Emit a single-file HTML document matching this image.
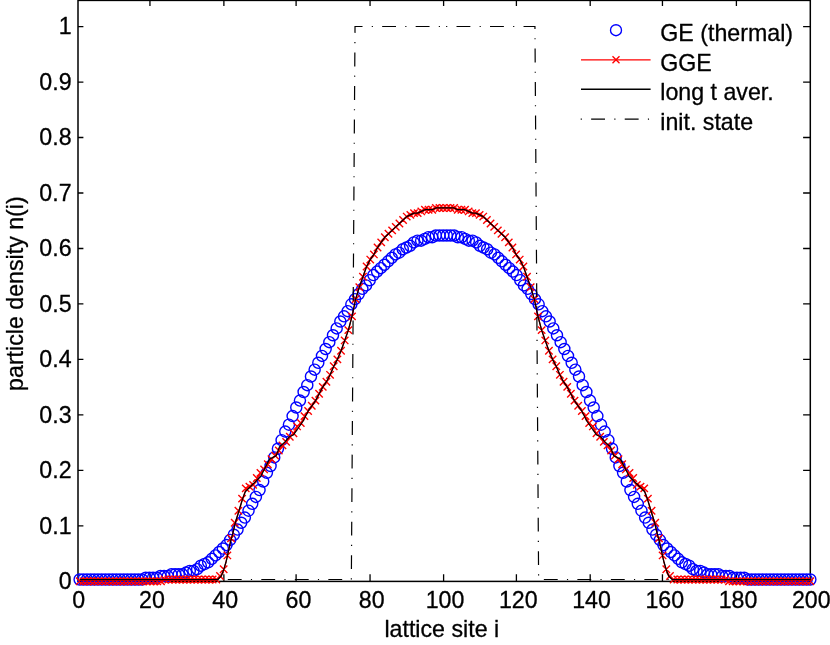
<!DOCTYPE html>
<html><head><meta charset="utf-8"><title>plot</title><style>html,body{margin:0;padding:0;background:#fff}svg{display:block;will-change:transform}</style></head>
<body>
<svg width="830" height="645" viewBox="0 0 830 645">
<rect x="0" y="0" width="830" height="645" fill="#fff"/>
<g stroke="#000" fill="none">
<rect x="78.00" y="0.40" width="732.30" height="581.00" stroke-width="1.5"/>
<path d="M149.95 581.40V574.20M149.95 0.40V6.00M223.88 581.40V574.20M223.88 0.40V6.00M296.10 581.40V574.20M296.10 0.40V6.00M370.05 581.40V574.20M370.05 0.40V6.00M443.60 581.40V574.20M443.60 0.40V6.00M516.40 581.40V574.20M516.40 0.40V6.00M590.20 581.40V574.20M590.20 0.40V6.00M662.45 581.40V574.20M662.45 0.40V6.00M736.40 581.40V574.20M736.40 0.40V6.00M78.00 581.40H83.40M810.30 581.40H803.10M78.00 525.91H83.40M810.30 525.91H803.10M78.00 470.43H83.40M810.30 470.43H803.10M78.00 414.94H83.40M810.30 414.94H803.10M78.00 359.46H83.40M810.30 359.46H803.10M78.00 303.97H83.40M810.30 303.97H803.10M78.00 248.49H83.40M810.30 248.49H803.10M78.00 193.00H83.40M810.30 193.00H803.10M78.00 137.52H83.40M810.30 137.52H803.10M78.00 82.03H83.40M810.30 82.03H803.10M78.00 26.55H83.40M810.30 26.55H803.10" stroke-width="1.3"/>
</g>
<g fill="none" stroke="#0000ff" stroke-width="1.4">
<circle cx="79.62" cy="579.50" r="5.55"/>
<circle cx="83.29" cy="579.50" r="5.55"/>
<circle cx="86.97" cy="579.50" r="5.55"/>
<circle cx="90.64" cy="579.50" r="5.55"/>
<circle cx="94.31" cy="579.50" r="5.55"/>
<circle cx="97.98" cy="579.50" r="5.55"/>
<circle cx="101.65" cy="579.50" r="5.55"/>
<circle cx="105.33" cy="579.50" r="5.55"/>
<circle cx="109.00" cy="579.50" r="5.55"/>
<circle cx="112.67" cy="579.50" r="5.55"/>
<circle cx="116.34" cy="579.50" r="5.55"/>
<circle cx="120.01" cy="579.50" r="5.55"/>
<circle cx="123.69" cy="579.50" r="5.55"/>
<circle cx="127.36" cy="579.50" r="5.55"/>
<circle cx="131.03" cy="579.50" r="5.55"/>
<circle cx="134.70" cy="579.50" r="5.55"/>
<circle cx="138.37" cy="579.50" r="5.55"/>
<circle cx="142.05" cy="579.50" r="5.55"/>
<circle cx="145.72" cy="577.78" r="5.55"/>
<circle cx="149.39" cy="577.78" r="5.55"/>
<circle cx="153.06" cy="577.78" r="5.55"/>
<circle cx="156.73" cy="577.78" r="5.55"/>
<circle cx="160.41" cy="576.06" r="5.55"/>
<circle cx="164.08" cy="576.06" r="5.55"/>
<circle cx="167.75" cy="576.06" r="5.55"/>
<circle cx="171.42" cy="574.34" r="5.55"/>
<circle cx="175.09" cy="574.34" r="5.55"/>
<circle cx="178.77" cy="574.34" r="5.55"/>
<circle cx="182.44" cy="574.34" r="5.55"/>
<circle cx="186.11" cy="572.62" r="5.55"/>
<circle cx="189.78" cy="570.90" r="5.55"/>
<circle cx="193.45" cy="570.90" r="5.55"/>
<circle cx="197.13" cy="569.18" r="5.55"/>
<circle cx="200.80" cy="565.74" r="5.55"/>
<circle cx="204.47" cy="564.02" r="5.55"/>
<circle cx="208.14" cy="562.30" r="5.55"/>
<circle cx="211.81" cy="558.86" r="5.55"/>
<circle cx="215.49" cy="555.42" r="5.55"/>
<circle cx="219.16" cy="551.98" r="5.55"/>
<circle cx="222.83" cy="548.54" r="5.55"/>
<circle cx="226.50" cy="545.10" r="5.55"/>
<circle cx="230.17" cy="539.94" r="5.55"/>
<circle cx="233.85" cy="534.78" r="5.55"/>
<circle cx="237.52" cy="529.62" r="5.55"/>
<circle cx="241.19" cy="522.74" r="5.55"/>
<circle cx="244.86" cy="517.58" r="5.55"/>
<circle cx="248.53" cy="510.70" r="5.55"/>
<circle cx="252.21" cy="503.82" r="5.55"/>
<circle cx="255.88" cy="496.94" r="5.55"/>
<circle cx="259.55" cy="490.06" r="5.55"/>
<circle cx="263.22" cy="481.46" r="5.55"/>
<circle cx="266.89" cy="472.86" r="5.55"/>
<circle cx="270.57" cy="465.98" r="5.55"/>
<circle cx="274.24" cy="457.38" r="5.55"/>
<circle cx="277.91" cy="448.78" r="5.55"/>
<circle cx="281.58" cy="440.18" r="5.55"/>
<circle cx="285.25" cy="431.58" r="5.55"/>
<circle cx="288.93" cy="424.70" r="5.55"/>
<circle cx="292.60" cy="416.10" r="5.55"/>
<circle cx="296.27" cy="407.50" r="5.55"/>
<circle cx="299.94" cy="400.62" r="5.55"/>
<circle cx="303.61" cy="392.02" r="5.55"/>
<circle cx="307.29" cy="385.14" r="5.55"/>
<circle cx="310.96" cy="376.54" r="5.55"/>
<circle cx="314.63" cy="369.66" r="5.55"/>
<circle cx="318.30" cy="362.78" r="5.55"/>
<circle cx="321.97" cy="355.90" r="5.55"/>
<circle cx="325.65" cy="349.02" r="5.55"/>
<circle cx="329.32" cy="342.14" r="5.55"/>
<circle cx="332.99" cy="335.26" r="5.55"/>
<circle cx="336.66" cy="328.38" r="5.55"/>
<circle cx="340.33" cy="321.50" r="5.55"/>
<circle cx="344.01" cy="316.34" r="5.55"/>
<circle cx="347.68" cy="311.18" r="5.55"/>
<circle cx="351.35" cy="304.30" r="5.55"/>
<circle cx="355.02" cy="299.14" r="5.55"/>
<circle cx="358.69" cy="293.98" r="5.55"/>
<circle cx="362.37" cy="288.82" r="5.55"/>
<circle cx="366.04" cy="285.38" r="5.55"/>
<circle cx="369.71" cy="280.22" r="5.55"/>
<circle cx="373.38" cy="275.06" r="5.55"/>
<circle cx="377.05" cy="271.62" r="5.55"/>
<circle cx="380.73" cy="268.18" r="5.55"/>
<circle cx="384.40" cy="264.74" r="5.55"/>
<circle cx="388.07" cy="261.30" r="5.55"/>
<circle cx="391.74" cy="257.86" r="5.55"/>
<circle cx="395.41" cy="254.42" r="5.55"/>
<circle cx="399.09" cy="252.70" r="5.55"/>
<circle cx="402.76" cy="249.26" r="5.55"/>
<circle cx="406.43" cy="247.54" r="5.55"/>
<circle cx="410.10" cy="245.82" r="5.55"/>
<circle cx="413.77" cy="242.38" r="5.55"/>
<circle cx="417.45" cy="240.66" r="5.55"/>
<circle cx="421.12" cy="240.66" r="5.55"/>
<circle cx="424.79" cy="238.94" r="5.55"/>
<circle cx="428.46" cy="237.22" r="5.55"/>
<circle cx="432.13" cy="237.22" r="5.55"/>
<circle cx="435.81" cy="235.50" r="5.55"/>
<circle cx="439.48" cy="235.50" r="5.55"/>
<circle cx="443.15" cy="235.50" r="5.55"/>
<circle cx="446.82" cy="235.50" r="5.55"/>
<circle cx="450.49" cy="235.50" r="5.55"/>
<circle cx="454.17" cy="235.50" r="5.55"/>
<circle cx="457.84" cy="237.22" r="5.55"/>
<circle cx="461.51" cy="237.22" r="5.55"/>
<circle cx="465.18" cy="238.94" r="5.55"/>
<circle cx="468.85" cy="240.66" r="5.55"/>
<circle cx="472.53" cy="240.66" r="5.55"/>
<circle cx="476.20" cy="242.38" r="5.55"/>
<circle cx="479.87" cy="245.82" r="5.55"/>
<circle cx="483.54" cy="247.54" r="5.55"/>
<circle cx="487.21" cy="249.26" r="5.55"/>
<circle cx="490.89" cy="252.70" r="5.55"/>
<circle cx="494.56" cy="254.42" r="5.55"/>
<circle cx="498.23" cy="257.86" r="5.55"/>
<circle cx="501.90" cy="261.30" r="5.55"/>
<circle cx="505.57" cy="264.74" r="5.55"/>
<circle cx="509.25" cy="268.18" r="5.55"/>
<circle cx="512.92" cy="271.62" r="5.55"/>
<circle cx="516.59" cy="275.06" r="5.55"/>
<circle cx="520.26" cy="280.22" r="5.55"/>
<circle cx="523.93" cy="285.38" r="5.55"/>
<circle cx="527.61" cy="288.82" r="5.55"/>
<circle cx="531.28" cy="293.98" r="5.55"/>
<circle cx="534.95" cy="299.14" r="5.55"/>
<circle cx="538.62" cy="304.30" r="5.55"/>
<circle cx="542.29" cy="311.18" r="5.55"/>
<circle cx="545.97" cy="316.34" r="5.55"/>
<circle cx="549.64" cy="321.50" r="5.55"/>
<circle cx="553.31" cy="328.38" r="5.55"/>
<circle cx="556.98" cy="335.26" r="5.55"/>
<circle cx="560.65" cy="342.14" r="5.55"/>
<circle cx="564.33" cy="349.02" r="5.55"/>
<circle cx="568.00" cy="355.90" r="5.55"/>
<circle cx="571.67" cy="362.78" r="5.55"/>
<circle cx="575.34" cy="369.66" r="5.55"/>
<circle cx="579.01" cy="376.54" r="5.55"/>
<circle cx="582.69" cy="385.14" r="5.55"/>
<circle cx="586.36" cy="392.02" r="5.55"/>
<circle cx="590.03" cy="400.62" r="5.55"/>
<circle cx="593.70" cy="407.50" r="5.55"/>
<circle cx="597.37" cy="416.10" r="5.55"/>
<circle cx="601.05" cy="424.70" r="5.55"/>
<circle cx="604.72" cy="431.58" r="5.55"/>
<circle cx="608.39" cy="440.18" r="5.55"/>
<circle cx="612.06" cy="448.78" r="5.55"/>
<circle cx="615.73" cy="457.38" r="5.55"/>
<circle cx="619.41" cy="465.98" r="5.55"/>
<circle cx="623.08" cy="472.86" r="5.55"/>
<circle cx="626.75" cy="481.46" r="5.55"/>
<circle cx="630.42" cy="490.06" r="5.55"/>
<circle cx="634.09" cy="496.94" r="5.55"/>
<circle cx="637.77" cy="503.82" r="5.55"/>
<circle cx="641.44" cy="510.70" r="5.55"/>
<circle cx="645.11" cy="517.58" r="5.55"/>
<circle cx="648.78" cy="522.74" r="5.55"/>
<circle cx="652.45" cy="529.62" r="5.55"/>
<circle cx="656.13" cy="534.78" r="5.55"/>
<circle cx="659.80" cy="539.94" r="5.55"/>
<circle cx="663.47" cy="545.10" r="5.55"/>
<circle cx="667.14" cy="548.54" r="5.55"/>
<circle cx="670.81" cy="551.98" r="5.55"/>
<circle cx="674.49" cy="555.42" r="5.55"/>
<circle cx="678.16" cy="558.86" r="5.55"/>
<circle cx="681.83" cy="562.30" r="5.55"/>
<circle cx="685.50" cy="564.02" r="5.55"/>
<circle cx="689.17" cy="565.74" r="5.55"/>
<circle cx="692.85" cy="569.18" r="5.55"/>
<circle cx="696.52" cy="570.90" r="5.55"/>
<circle cx="700.19" cy="570.90" r="5.55"/>
<circle cx="703.86" cy="572.62" r="5.55"/>
<circle cx="707.53" cy="574.34" r="5.55"/>
<circle cx="711.21" cy="574.34" r="5.55"/>
<circle cx="714.88" cy="574.34" r="5.55"/>
<circle cx="718.55" cy="574.34" r="5.55"/>
<circle cx="722.22" cy="576.06" r="5.55"/>
<circle cx="725.89" cy="576.06" r="5.55"/>
<circle cx="729.57" cy="576.06" r="5.55"/>
<circle cx="733.24" cy="577.78" r="5.55"/>
<circle cx="736.91" cy="577.78" r="5.55"/>
<circle cx="740.58" cy="577.78" r="5.55"/>
<circle cx="744.25" cy="577.78" r="5.55"/>
<circle cx="747.93" cy="579.50" r="5.55"/>
<circle cx="751.60" cy="579.50" r="5.55"/>
<circle cx="755.27" cy="579.50" r="5.55"/>
<circle cx="758.94" cy="579.50" r="5.55"/>
<circle cx="762.61" cy="579.50" r="5.55"/>
<circle cx="766.29" cy="579.50" r="5.55"/>
<circle cx="769.96" cy="579.50" r="5.55"/>
<circle cx="773.63" cy="579.50" r="5.55"/>
<circle cx="777.30" cy="579.50" r="5.55"/>
<circle cx="780.97" cy="579.50" r="5.55"/>
<circle cx="784.65" cy="579.50" r="5.55"/>
<circle cx="788.32" cy="579.50" r="5.55"/>
<circle cx="791.99" cy="579.50" r="5.55"/>
<circle cx="795.66" cy="579.50" r="5.55"/>
<circle cx="799.33" cy="579.50" r="5.55"/>
<circle cx="803.01" cy="579.50" r="5.55"/>
<circle cx="806.68" cy="579.50" r="5.55"/>
<circle cx="810.35" cy="579.50" r="5.55"/>
</g>
<polyline points="79.62,579.50 83.29,579.50 86.97,579.50 90.64,579.50 94.31,579.50 97.98,579.50 101.65,579.50 105.33,579.50 109.00,579.50 112.67,579.50 116.34,579.50 120.01,579.50 123.69,579.50 127.36,579.50 131.03,579.50 134.70,579.50 138.37,579.50 142.05,579.50 145.72,579.50 149.39,579.50 153.06,579.50 156.73,579.50 160.41,579.50 164.08,579.50 167.75,579.50 171.42,579.50 175.09,579.50 178.77,579.50 182.44,579.50 186.11,579.50 189.78,579.50 193.45,579.50 197.13,579.50 200.80,579.50 204.47,579.50 208.14,579.50 211.81,579.50 215.49,579.50 217.69,579.50 221.29,576.06 223.89,569.18 225.95,562.30 228.30,551.98 230.54,541.66 232.89,533.06 235.31,522.74 238.99,510.70 242.66,498.66 246.26,488.34 249.91,486.62 253.56,484.90 257.20,478.02 260.85,472.86 264.49,469.42 268.14,464.26 271.79,459.10 275.43,455.66 279.08,450.50 282.73,445.34 286.37,441.90 290.02,436.74 293.66,433.30 297.31,426.42 300.96,422.98 304.60,416.10 308.25,410.94 311.90,405.78 315.54,400.62 319.19,393.74 322.84,386.86 326.48,381.70 330.13,374.82 333.77,366.22 337.42,359.34 341.07,350.74 344.71,340.42 348.36,330.10 352.01,316.34 355.65,299.14 359.30,287.10 362.94,276.78 366.59,266.46 370.24,259.58 373.88,254.42 377.53,247.54 381.18,242.38 384.82,237.22 388.47,233.78 392.11,230.34 395.76,226.90 399.41,223.46 403.05,220.02 406.70,216.58 410.35,214.86 413.99,213.14 417.64,213.14 421.29,211.42 424.93,209.70 428.58,209.70 432.22,209.70 435.87,207.98 439.52,207.98 443.16,207.98 446.81,207.98 450.46,207.98 454.10,207.98 457.75,209.70 461.39,209.70 465.04,209.70 468.69,211.42 472.33,213.14 475.98,213.14 479.63,214.86 483.27,216.58 486.92,220.02 490.56,223.46 494.21,226.90 497.86,230.34 501.50,233.78 505.15,237.22 508.80,242.38 512.44,247.54 516.09,254.42 519.74,259.58 523.38,266.46 527.03,276.78 530.67,287.10 534.32,299.14 537.97,316.34 541.61,330.10 545.26,340.42 548.91,350.74 552.55,359.34 556.20,366.22 559.84,374.82 563.49,381.70 567.14,386.86 570.78,393.74 574.43,400.62 578.08,405.78 581.72,410.94 585.37,416.10 589.01,422.98 592.66,426.42 596.31,433.30 599.95,436.74 603.60,441.90 607.25,445.34 610.89,450.50 614.54,455.66 618.19,459.10 621.83,464.26 625.48,469.42 629.12,472.86 632.77,478.02 636.42,484.90 640.06,486.62 643.71,488.34 647.31,498.66 650.99,510.70 654.66,522.74 657.08,533.06 659.43,541.66 661.67,551.98 664.02,562.30 666.08,569.18 668.68,576.06 672.28,579.50 674.49,579.50 678.16,579.50 681.83,579.50 685.50,579.50 689.17,579.50 692.85,579.50 696.52,579.50 700.19,579.50 703.86,579.50 707.53,579.50 711.21,579.50 714.88,579.50 718.55,579.50 722.22,579.50 725.89,579.50 729.57,579.50 733.24,579.50 736.91,579.50 740.58,579.50 744.25,579.50 747.93,579.50 751.60,579.50 755.27,579.50 758.94,579.50 762.61,579.50 766.29,579.50 769.96,579.50 773.63,579.50 777.30,579.50 780.97,579.50 784.65,579.50 788.32,579.50 791.99,579.50 795.66,579.50 799.33,579.50 803.01,579.50 806.68,579.50 810.35,579.50" fill="none" stroke="#ff0000" stroke-width="1.3" stroke-linejoin="round"/>
<path d="M75.94 577.52L83.34 584.92M75.94 584.92L83.34 577.52M79.64 577.52L87.04 584.92M79.64 584.92L87.04 577.52M83.34 577.52L90.74 584.92M83.34 584.92L90.74 577.52M87.04 577.52L94.44 584.92M87.04 584.92L94.44 577.52M90.74 577.52L98.14 584.92M90.74 584.92L98.14 577.52M94.44 577.52L101.84 584.92M94.44 584.92L101.84 577.52M98.14 577.52L105.54 584.92M98.14 584.92L105.54 577.52M101.84 577.52L109.24 584.92M101.84 584.92L109.24 577.52M105.54 577.52L112.94 584.92M105.54 584.92L112.94 577.52M109.23 577.52L116.63 584.92M109.23 584.92L116.63 577.52M112.93 577.52L120.33 584.92M112.93 584.92L120.33 577.52M116.63 577.52L124.03 584.92M116.63 584.92L124.03 577.52M120.33 577.52L127.73 584.92M120.33 584.92L127.73 577.52M124.03 577.52L131.43 584.92M124.03 584.92L131.43 577.52M127.73 577.52L135.13 584.92M127.73 584.92L135.13 577.52M131.42 577.52L138.82 584.92M131.42 584.92L138.82 577.52M135.12 577.52L142.52 584.92M135.12 584.92L142.52 577.52M138.82 577.52L146.22 584.92M138.82 584.92L146.22 577.52M142.51 577.52L149.91 584.92M142.51 584.92L149.91 577.52M146.21 577.52L153.61 584.92M146.21 584.92L153.61 577.52M149.90 577.52L157.30 584.92M149.90 584.92L157.30 577.52M153.60 577.52L161.00 584.92M153.60 584.92L161.00 577.52M157.29 577.52L164.69 584.92M157.29 584.92L164.69 577.52M160.98 575.80L168.38 583.20M160.98 583.20L168.38 575.80M164.68 575.80L172.08 583.20M164.68 583.20L172.08 575.80M168.37 575.80L175.77 583.20M168.37 583.20L175.77 575.80M172.06 575.80L179.46 583.20M172.06 583.20L179.46 575.80M175.75 575.80L183.15 583.20M175.75 583.20L183.15 575.80M179.44 575.80L186.84 583.20M179.44 583.20L186.84 575.80M183.13 575.80L190.53 583.20M183.13 583.20L190.53 575.80M186.82 575.80L194.22 583.20M186.82 583.20L194.22 575.80M190.51 575.80L197.91 583.20M190.51 583.20L197.91 575.80M194.19 575.80L201.59 583.20M194.19 583.20L201.59 575.80M197.88 575.80L205.28 583.20M197.88 583.20L205.28 575.80M201.57 575.80L208.97 583.20M201.57 583.20L208.97 575.80M205.25 575.80L212.65 583.20M205.25 583.20L212.65 575.80M208.93 575.80L216.33 583.20M208.93 583.20L216.33 575.80M212.62 575.80L220.02 583.20M212.62 583.20L220.02 575.80M216.30 572.36L223.70 579.76M216.30 579.76L223.70 572.36M219.98 565.48L227.38 572.88M219.98 572.88L227.38 565.48M223.66 551.72L231.06 559.12M223.66 559.12L231.06 551.72M227.34 534.52L234.74 541.92M227.34 541.92L234.74 534.52M231.02 519.04L238.42 526.44M231.02 526.44L238.42 519.04M234.70 507.00L242.10 514.40M234.70 514.40L242.10 507.00M238.38 494.96L245.78 502.36M238.38 502.36L245.78 494.96M242.05 484.64L249.45 492.04M242.05 492.04L249.45 484.64M245.73 482.92L253.13 490.32M245.73 490.32L253.13 482.92M249.40 481.20L256.80 488.60M249.40 488.60L256.80 481.20M253.08 474.32L260.48 481.72M253.08 481.72L260.48 474.32M256.75 469.16L264.15 476.56M256.75 476.56L264.15 469.16M260.42 465.72L267.82 473.12M260.42 473.12L267.82 465.72M264.09 460.56L271.49 467.96M264.09 467.96L271.49 460.56M267.76 455.40L275.16 462.80M267.76 462.80L275.16 455.40M271.43 451.96L278.83 459.36M271.43 459.36L278.83 451.96M275.10 446.80L282.50 454.20M275.10 454.20L282.50 446.80M278.77 441.64L286.17 449.04M278.77 449.04L286.17 441.64M282.44 438.20L289.84 445.60M282.44 445.60L289.84 438.20M286.10 433.04L293.50 440.44M286.10 440.44L293.50 433.04M289.77 429.60L297.17 437.00M289.77 437.00L297.17 429.60M293.43 422.72L300.83 430.12M293.43 430.12L300.83 422.72M297.09 419.28L304.49 426.68M297.09 426.68L304.49 419.28M300.76 412.40L308.16 419.80M300.76 419.80L308.16 412.40M304.42 407.24L311.82 414.64M304.42 414.64L311.82 407.24M308.08 402.08L315.48 409.48M308.08 409.48L315.48 402.08M311.74 396.92L319.14 404.32M311.74 404.32L319.14 396.92M315.40 390.04L322.80 397.44M315.40 397.44L322.80 390.04M319.06 383.16L326.46 390.56M319.06 390.56L326.46 383.16M322.71 378.00L330.11 385.40M322.71 385.40L330.11 378.00M326.37 371.12L333.77 378.52M326.37 378.52L333.77 371.12M330.03 362.52L337.43 369.92M330.03 369.92L337.43 362.52M333.68 355.64L341.08 363.04M333.68 363.04L341.08 355.64M337.34 347.04L344.74 354.44M337.34 354.44L344.74 347.04M340.99 336.72L348.39 344.12M340.99 344.12L348.39 336.72M344.64 326.40L352.04 333.80M344.64 333.80L352.04 326.40M348.30 312.64L355.70 320.04M348.30 320.04L355.70 312.64M351.95 295.44L359.35 302.84M351.95 302.84L359.35 295.44M355.60 283.40L363.00 290.80M355.60 290.80L363.00 283.40M359.25 273.08L366.65 280.48M359.25 280.48L366.65 273.08M362.90 262.76L370.30 270.16M362.90 270.16L370.30 262.76M366.55 255.88L373.95 263.28M366.55 263.28L373.95 255.88M370.20 250.72L377.60 258.12M370.20 258.12L377.60 250.72M373.85 243.84L381.25 251.24M373.85 251.24L381.25 243.84M377.50 238.68L384.90 246.08M377.50 246.08L384.90 238.68M381.14 233.52L388.54 240.92M381.14 240.92L388.54 233.52M384.79 230.08L392.19 237.48M384.79 237.48L392.19 230.08M388.44 226.64L395.84 234.04M388.44 234.04L395.84 226.64M392.08 223.20L399.48 230.60M392.08 230.60L399.48 223.20M395.73 219.76L403.13 227.16M395.73 227.16L403.13 219.76M399.38 216.32L406.78 223.72M399.38 223.72L406.78 216.32M403.02 212.88L410.42 220.28M403.02 220.28L410.42 212.88M406.67 211.16L414.07 218.56M406.67 218.56L414.07 211.16M410.31 209.44L417.71 216.84M410.31 216.84L417.71 209.44M413.96 209.44L421.36 216.84M413.96 216.84L421.36 209.44M417.60 207.72L425.00 215.12M417.60 215.12L425.00 207.72M421.24 206.00L428.64 213.40M421.24 213.40L428.64 206.00M424.89 206.00L432.29 213.40M424.89 213.40L432.29 206.00M428.53 206.00L435.93 213.40M428.53 213.40L435.93 206.00M432.18 204.28L439.58 211.68M432.18 211.68L439.58 204.28M435.82 204.28L443.22 211.68M435.82 211.68L443.22 204.28M439.46 204.28L446.86 211.68M439.46 211.68L446.86 204.28M443.11 204.28L450.51 211.68M443.11 211.68L450.51 204.28M446.75 204.28L454.15 211.68M446.75 211.68L454.15 204.28M450.40 204.28L457.80 211.68M450.40 211.68L457.80 204.28M454.04 206.00L461.44 213.40M454.04 213.40L461.44 206.00M457.68 206.00L465.08 213.40M457.68 213.40L465.08 206.00M461.33 206.00L468.73 213.40M461.33 213.40L468.73 206.00M464.97 207.72L472.37 215.12M464.97 215.12L472.37 207.72M468.62 209.44L476.02 216.84M468.62 216.84L476.02 209.44M472.26 209.44L479.66 216.84M472.26 216.84L479.66 209.44M475.91 211.16L483.31 218.56M475.91 218.56L483.31 211.16M479.55 212.88L486.95 220.28M479.55 220.28L486.95 212.88M483.20 216.32L490.60 223.72M483.20 223.72L490.60 216.32M486.84 219.76L494.24 227.16M486.84 227.16L494.24 219.76M490.49 223.20L497.89 230.60M490.49 230.60L497.89 223.20M494.13 226.64L501.53 234.04M494.13 234.04L501.53 226.64M497.78 230.08L505.18 237.48M497.78 237.48L505.18 230.08M501.43 233.52L508.83 240.92M501.43 240.92L508.83 233.52M505.08 238.68L512.48 246.08M505.08 246.08L512.48 238.68M508.72 243.84L516.12 251.24M508.72 251.24L516.12 243.84M512.37 250.72L519.77 258.12M512.37 258.12L519.77 250.72M516.02 255.88L523.42 263.28M516.02 263.28L523.42 255.88M519.67 262.76L527.07 270.16M519.67 270.16L527.07 262.76M523.32 273.08L530.72 280.48M523.32 280.48L530.72 273.08M526.97 283.40L534.37 290.80M526.97 290.80L534.37 283.40M530.62 295.44L538.02 302.84M530.62 302.84L538.02 295.44M534.28 312.64L541.68 320.04M534.28 320.04L541.68 312.64M537.93 326.40L545.33 333.80M537.93 333.80L545.33 326.40M541.58 336.72L548.98 344.12M541.58 344.12L548.98 336.72M545.24 347.04L552.64 354.44M545.24 354.44L552.64 347.04M548.89 355.64L556.29 363.04M548.89 363.04L556.29 355.64M552.55 362.52L559.95 369.92M552.55 369.92L559.95 362.52M556.20 371.12L563.60 378.52M556.20 378.52L563.60 371.12M559.86 378.00L567.26 385.40M559.86 385.40L567.26 378.00M563.52 383.16L570.92 390.56M563.52 390.56L570.92 383.16M567.17 390.04L574.57 397.44M567.17 397.44L574.57 390.04M570.83 396.92L578.23 404.32M570.83 404.32L578.23 396.92M574.49 402.08L581.89 409.48M574.49 409.48L581.89 402.08M578.15 407.24L585.55 414.64M578.15 414.64L585.55 407.24M581.82 412.40L589.22 419.80M581.82 419.80L589.22 412.40M585.48 419.28L592.88 426.68M585.48 426.68L592.88 419.28M589.14 422.72L596.54 430.12M589.14 430.12L596.54 422.72M592.81 429.60L600.21 437.00M592.81 437.00L600.21 429.60M596.47 433.04L603.87 440.44M596.47 440.44L603.87 433.04M600.14 438.20L607.54 445.60M600.14 445.60L607.54 438.20M603.80 441.64L611.20 449.04M603.80 449.04L611.20 441.64M607.47 446.80L614.87 454.20M607.47 454.20L614.87 446.80M611.14 451.96L618.54 459.36M611.14 459.36L618.54 451.96M614.81 455.40L622.21 462.80M614.81 462.80L622.21 455.40M618.48 460.56L625.88 467.96M618.48 467.96L625.88 460.56M622.15 465.72L629.55 473.12M622.15 473.12L629.55 465.72M625.82 469.16L633.22 476.56M625.82 476.56L633.22 469.16M629.49 474.32L636.89 481.72M629.49 481.72L636.89 474.32M633.17 481.20L640.57 488.60M633.17 488.60L640.57 481.20M636.84 482.92L644.24 490.32M636.84 490.32L644.24 482.92M640.52 484.64L647.92 492.04M640.52 492.04L647.92 484.64M644.20 494.96L651.60 502.36M644.20 502.36L651.60 494.96M647.87 507.00L655.27 514.40M647.87 514.40L655.27 507.00M651.55 519.04L658.95 526.44M651.55 526.44L658.95 519.04M655.23 534.52L662.63 541.92M655.23 541.92L662.63 534.52M658.91 551.72L666.31 559.12M658.91 559.12L666.31 551.72M662.59 565.48L669.99 572.88M662.59 572.88L669.99 565.48M666.27 572.36L673.67 579.76M666.27 579.76L673.67 572.36M669.95 575.80L677.35 583.20M669.95 583.20L677.35 575.80M673.64 575.80L681.04 583.20M673.64 583.20L681.04 575.80M677.32 575.80L684.72 583.20M677.32 583.20L684.72 575.80M681.01 575.80L688.41 583.20M681.01 583.20L688.41 575.80M684.69 575.80L692.09 583.20M684.69 583.20L692.09 575.80M688.38 575.80L695.78 583.20M688.38 583.20L695.78 575.80M692.07 575.80L699.47 583.20M692.07 583.20L699.47 575.80M695.75 575.80L703.15 583.20M695.75 583.20L703.15 575.80M699.44 575.80L706.84 583.20M699.44 583.20L706.84 575.80M703.13 575.80L710.53 583.20M703.13 583.20L710.53 575.80M706.82 575.80L714.22 583.20M706.82 583.20L714.22 575.80M710.51 575.80L717.91 583.20M710.51 583.20L717.91 575.80M714.20 575.80L721.60 583.20M714.20 583.20L721.60 575.80M717.90 575.80L725.30 583.20M717.90 583.20L725.30 575.80M721.59 575.80L728.99 583.20M721.59 583.20L728.99 575.80M725.28 577.52L732.68 584.92M725.28 584.92L732.68 577.52M728.98 577.52L736.38 584.92M728.98 584.92L736.38 577.52M732.67 577.52L740.07 584.92M732.67 584.92L740.07 577.52M736.36 577.52L743.76 584.92M736.36 584.92L743.76 577.52M740.06 577.52L747.46 584.92M740.06 584.92L747.46 577.52M743.76 577.52L751.16 584.92M743.76 584.92L751.16 577.52M747.45 577.52L754.85 584.92M747.45 584.92L754.85 577.52M751.15 577.52L758.55 584.92M751.15 584.92L758.55 577.52M754.85 577.52L762.25 584.92M754.85 584.92L762.25 577.52M758.54 577.52L765.94 584.92M758.54 584.92L765.94 577.52M762.24 577.52L769.64 584.92M762.24 584.92L769.64 577.52M765.94 577.52L773.34 584.92M765.94 584.92L773.34 577.52M769.64 577.52L777.04 584.92M769.64 584.92L777.04 577.52M773.34 577.52L780.74 584.92M773.34 584.92L780.74 577.52M777.04 577.52L784.44 584.92M777.04 584.92L784.44 577.52M780.74 577.52L788.14 584.92M780.74 584.92L788.14 577.52M784.44 577.52L791.84 584.92M784.44 584.92L791.84 577.52M788.14 577.52L795.54 584.92M788.14 584.92L795.54 577.52M791.84 577.52L799.24 584.92M791.84 584.92L799.24 577.52M795.54 577.52L802.94 584.92M795.54 584.92L802.94 577.52M799.24 577.52L806.64 584.92M799.24 584.92L806.64 577.52M802.94 577.52L810.34 584.92M802.94 584.92L810.34 577.52M806.64 577.52L814.04 584.92M806.64 584.92L814.04 577.52" fill="none" stroke="#ff0000" stroke-width="1.4"/>
<polyline points="79.62,579.50 83.29,579.50 86.97,579.50 90.64,579.50 94.31,579.50 97.98,579.50 101.65,579.50 105.33,579.50 109.00,579.50 112.67,579.50 116.34,579.50 120.01,579.50 123.69,579.50 127.36,579.50 131.03,579.50 134.70,579.50 138.37,579.50 142.05,579.50 145.72,579.50 149.39,579.50 153.06,579.50 156.73,579.50 160.41,579.50 164.08,579.50 167.75,579.50 171.42,579.50 175.09,579.50 178.77,579.50 182.44,579.50 186.11,579.50 189.78,579.50 193.45,579.50 197.13,579.50 200.80,579.50 204.47,579.50 208.14,579.50 211.81,579.50 215.49,579.50 217.69,579.50 221.29,576.06 223.89,569.18 225.95,562.30 228.30,551.98 230.54,541.66 232.89,533.06 235.31,522.74 238.99,510.70 242.66,498.66 245.30,491.78 260.80,476.30 269.50,459.10 276.29,455.66 279.42,447.06 285.00,441.90 289.37,436.74 293.30,435.02 302.99,421.26 308.25,410.94 311.90,405.78 315.54,400.62 319.19,393.74 322.84,386.86 326.48,381.70 330.13,374.82 333.77,366.22 337.42,359.34 341.07,350.74 344.71,340.42 348.36,330.10 352.01,316.34 355.65,299.14 359.30,287.10 362.94,276.78 366.59,266.46 370.24,259.58 373.88,254.42 377.53,247.54 381.18,242.38 384.82,237.22 388.47,233.78 392.11,230.34 395.76,226.90 399.41,223.46 403.05,220.02 406.70,216.58 410.35,214.86 413.99,213.14 417.64,213.14 421.29,211.42 424.93,209.70 428.58,209.70 432.22,209.70 435.87,207.98 439.52,207.98 443.16,207.98 446.81,207.98 450.46,207.98 454.10,207.98 457.75,209.70 461.39,209.70 465.04,209.70 468.69,211.42 472.33,213.14 475.98,213.14 479.63,214.86 483.27,216.58 486.92,220.02 490.56,223.46 494.21,226.90 497.86,230.34 501.50,233.78 505.15,237.22 508.80,242.38 512.44,247.54 516.09,254.42 519.74,259.58 523.38,266.46 527.03,276.78 530.67,287.10 534.32,299.14 537.97,316.34 541.61,330.10 545.26,340.42 548.91,350.74 552.55,359.34 556.20,366.22 559.84,374.82 563.49,381.70 567.14,386.86 570.78,393.74 574.43,400.62 578.08,405.78 581.72,410.94 586.98,421.26 596.68,435.02 600.61,436.74 604.98,441.90 610.56,447.06 613.68,455.66 620.47,459.10 629.17,476.30 644.67,491.78 647.31,498.66 650.99,510.70 654.66,522.74 657.08,533.06 659.43,541.66 661.67,551.98 664.02,562.30 666.08,569.18 668.68,576.06 672.28,579.50 674.49,579.50 678.16,579.50 681.83,579.50 685.50,579.50 689.17,579.50 692.85,579.50 696.52,579.50 700.19,579.50 703.86,579.50 707.53,579.50 711.21,579.50 714.88,579.50 718.55,579.50 722.22,579.50 725.89,579.50 729.57,579.50 733.24,579.50 736.91,579.50 740.58,579.50 744.25,579.50 747.93,579.50 751.60,579.50 755.27,579.50 758.94,579.50 762.61,579.50 766.29,579.50 769.96,579.50 773.63,579.50 777.30,579.50 780.97,579.50 784.65,579.50 788.32,579.50 791.99,579.50 795.66,579.50 799.33,579.50 803.01,579.50 806.68,579.50 810.35,579.50" fill="none" stroke="#000" stroke-width="1.25" stroke-linejoin="round"/>
<polyline points="79.62,579.50 351.35,579.50 355.02,26.50 446.10,26.50" fill="none" stroke="#000" stroke-width="1.2" stroke-dasharray="1.16 9.24 13.87 9.24" stroke-dashoffset="-3.73"/>
<polyline points="446.10,26.50 534.95,26.50 538.62,579.50 810.35,579.50" fill="none" stroke="#000" stroke-width="1.2" stroke-dasharray="1.16 9.24 13.87 9.24"/>
<g font-family="Liberation Sans, sans-serif" font-size="23.2" fill="#000" stroke="#000" stroke-width="0.3" stroke-linejoin="round">
<text x="78.70" y="607.8" text-anchor="middle">0</text>
<text x="151.96" y="607.8" text-anchor="middle">20</text>
<text x="225.22" y="607.8" text-anchor="middle">40</text>
<text x="298.48" y="607.8" text-anchor="middle">60</text>
<text x="371.74" y="607.8" text-anchor="middle">80</text>
<text x="445.00" y="607.8" text-anchor="middle">100</text>
<text x="518.26" y="607.8" text-anchor="middle">120</text>
<text x="591.52" y="607.8" text-anchor="middle">140</text>
<text x="664.78" y="607.8" text-anchor="middle">160</text>
<text x="738.04" y="607.8" text-anchor="middle">180</text>
<text x="811.30" y="607.8" text-anchor="middle">200</text>
<text x="71.6" y="589.20" text-anchor="end">0</text>
<text x="71.6" y="533.69" text-anchor="end">0.1</text>
<text x="71.6" y="478.18" text-anchor="end">0.2</text>
<text x="71.6" y="422.67" text-anchor="end">0.3</text>
<text x="71.6" y="367.16" text-anchor="end">0.4</text>
<text x="71.6" y="311.65" text-anchor="end">0.5</text>
<text x="71.6" y="256.14" text-anchor="end">0.6</text>
<text x="71.6" y="200.63" text-anchor="end">0.7</text>
<text x="71.6" y="145.12" text-anchor="end">0.8</text>
<text x="71.6" y="89.61" text-anchor="end">0.9</text>
<text x="71.6" y="34.10" text-anchor="end">1</text>
<text x="441.8" y="637" text-anchor="middle">lattice site i</text>
<text transform="translate(22.6,293.6) rotate(-90)" text-anchor="middle">particle density n(i)</text>
<text x="660.3" y="41.2">GE (thermal)</text>
<text x="660.3" y="70.6">GGE</text>
<text x="660.3" y="100.2">long t aver.</text>
<text x="660.3" y="129.6">init. state</text>
</g>
<circle cx="616" cy="30.2" r="5.5" fill="none" stroke="#0000ff" stroke-width="1.35"/>
<path d="M581 59.8H650.6" stroke="#ff0000" stroke-width="1.3" fill="none"/>
<path d="M612.5 56.3L619.5 63.3M612.5 63.3L619.5 56.3" stroke="#ff0000" stroke-width="1.35" fill="none"/>
<path d="M581 89.2H650.6" stroke="#000" stroke-width="1.4" fill="none"/>
<path d="M580.7 119.1H650.0" stroke="#000" stroke-width="1.2" fill="none" stroke-dasharray="1.16 9.27 13.90 9.27"/>
</svg>
</body></html>
